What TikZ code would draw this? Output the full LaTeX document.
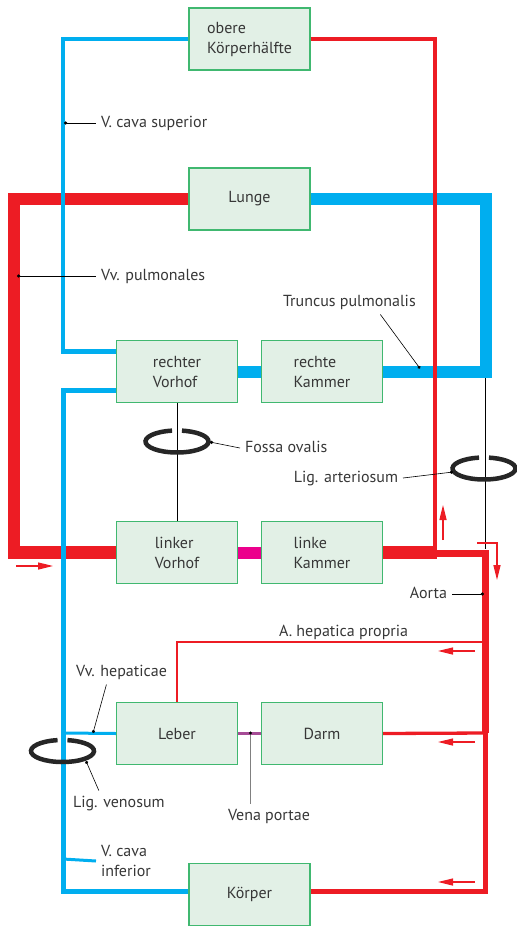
\documentclass[tikz,border=0pt]{standalone}
\usepackage{fontspec}
\setmainfont{PT Sans}
\usetikzlibrary{arrows.meta,calc}
\definecolor{cvene}{RGB}{0,174,239}
\definecolor{carterie}{RGB}{237,28,36}
\definecolor{cmisch}{RGB}{236,0,140}
\definecolor{cpfort}{RGB}{166,76,150}
\definecolor{organfill}{RGB}{226,240,230}
\definecolor{organline}{RGB}{64,184,112}
\definecolor{schrift}{RGB}{55,55,55}
\tikzstyle{organ}=[draw=organline, fill=organfill, line width=1.2pt, minimum width=121pt, minimum height=62pt, align=left, text=schrift, font=\fontsize{16}{20}\selectfont]
\tikzstyle{beschr}=[text=schrift, font=\fontsize{16}{20}\selectfont, inner sep=0pt, outer sep=5pt, text height=11.5pt, text depth=3.5pt]
\tikzstyle{beschr2}=[text=schrift, font=\fontsize{16}{20}\selectfont, inner sep=0pt, outer sep=5pt, align=left]
\tikzset{%
    vene/.style={draw=cvene, line width=#1},
    arterie/.style={draw=carterie, line width=#1},
    leit/.style={{Circle[length=3.2pt]}-, line width=0.6pt},
    ring/.style={draw=black!85, line width=4.5pt},
    pfeil/.style={draw=carterie, line width=1.3pt, -{Triangle[length=15pt,width=7pt]}},
  }
\begin{document}
\begin{tikzpicture}[x=1pt, y=-1pt, node distance=145pt]
    \useasboundingbox (0,0) rectangle (517,927);
    % Organe
    \node (lunge) [organ] at (249.5,199) {Lunge};
    \node (obkh) [organ, above of=lunge, node distance=160pt] {obere\\Körperhälfte};
    \node (rvh) [organ] at (177,371.5) {rechter\\Vorhof};
    \node (rk) [organ, right of=rvh] {rechte\\Kammer};
    \node (lvh) [organ, below of=rvh, node distance=181pt] {linker\\Vorhof};
    \node (lk) [organ, right of=lvh] {linke\\Kammer};
    \node (leber) [organ, below of=lvh, node distance=181pt] {Leber};
    \node (darm) [organ, right of=leber] {Darm};
    \node (koerper) [organ] at (249.5,894.5) {Körper};
    %
    \coordinate (pv1) at (14,199);
    \coordinate (pv2) at (14,552.5);
    \coordinate (pa1) at (485.5,199);
    \coordinate (pa2) at (485.5,372);
    \coordinate (vcs1) at (63,39);
    \coordinate (vcs2) at (63,351.5);
    \coordinate (vci1) at (63,390.5);
    \coordinate (vci2) at (63,891.5);
    \coordinate (ao0) at (433,553);
    \coordinate (ao1) at (437,552.5);
    \coordinate (ao2) at (485.5,553);
    \coordinate (ao3) at (485.5,733);
    \coordinate (ao4) at (485.5,891.5);
    \coordinate (ob1) at (435,39);
    \coordinate (ob2) at (435,553);
    \coordinate (hep) at (485.5,642);
    \coordinate (vvh) at (63,733);
    \coordinate (vp) at (250.5,733);
    % Gefaesse
    \draw [arterie=12.5pt] (lunge.west) -- (pv1) -- (pv2) -- (lvh.west);
    \draw [vene=12pt] (lunge.east) -- (pa1) -- (pa2) -- (pa2 -| rk.east);
    \draw [vene=12pt] (rvh.east) -- (rk.west);
    \draw [draw=cmisch, line width=12pt] (lvh.east) -- (lk.west);
    \draw [vene=4.7pt] (obkh.west) -- (vcs1) -- (vcs2) -- (vcs2 -| rvh.west);
    \draw [vene=5pt] (vci1 -| rvh.west) -- (vci1) -- (vci2) -- (vci2 -| koerper.west);
    \draw [vene=3pt] (leber.west) -- (vvh);
    \draw [draw=cpfort, line width=3pt] (leber.east) -- (darm.west);
    \draw [arterie=13pt] (lk.east) -- (ao1);
    \draw [arterie=4.7pt] (obkh.east) -- (ob1) -- (ob2);
    \draw [arterie=7pt] (ao0) -- (ao2) -- (ao3);
    \draw [arterie=4.7pt] (ao3) -- (ao4) -- (ao4 -| koerper.east);
    \draw [arterie=3.3pt] (darm.east) -- (ao3);
    \draw [arterie=1.2pt] (hep) -- (hep -| leber.north) -- (leber.north);
    % Ringe
    \coordinate (fo) at (177,441.5);
    \coordinate (la) at (484,468.5);
    \coordinate (lv) at (62.5,751);
    \draw [line width=0.6pt] (rvh.south) -- (lvh.north);
    \draw [line width=0.6pt] (485,378) -- (485,549);
    \foreach \r in {fo,la,lv}
      \draw [ring] (\r) ++(99:31.5pt and 11pt) arc[start angle=99, end angle=441, x radius=31.5pt, y radius=11pt];
    % Beschriftungen
    \node (tvcs) [beschr, anchor=west] at (96,123) {V. cava superior};
    \node (tvvp) [beschr, anchor=west] at (96,276) {Vv. pulmonales};
    \node (ttp) [beschr, anchor=west] at (278,302) {Truncus pulmonalis};
    \node (tfo) [beschr, anchor=west] at (240,448) {Fossa ovalis};
    \node (tla) [beschr, anchor=east] at (403,478) {Lig. arteriosum};
    \node (tao) [beschr, anchor=east] at (452,594) {Aorta};
    \node (thep) [beschr, anchor=west] at (274,632) {A. hepatica propria};
    \node (tvvh) [beschr, anchor=west] at (71,672) {Vv. hepaticae};
    \node (tlv) [beschr, anchor=west] at (68,803) {Lig. venosum};
    \node (tvp) [beschr, anchor=west] at (223,816) {Vena portae};
    \node (tvci) [beschr2, anchor=west] at (96,861) {V. cava\\inferior};
    \draw [leit] (64,123) -- (tvcs.west);
    \draw [leit] (17,276) -- (tvvp.west);
    \draw [leit] (420,368.5) -- ([xshift=31pt]ttp.south);
    \draw [leit] (210,442) -- (tfo.west);
    \draw [leit] (453,472) -- (tla.east);
    \draw [leit] (484,594) -- (tao.east);
    \draw [leit] (93,733) -- ([xshift=-15pt]tvvh.south);
    \draw [leit] (86,761) -- ([xshift=-20pt]tlv.north);
    \draw [draw=black!50, line width=1.3pt] (vp) -- (vp |- tvp.north);
    \fill (vp) circle (1.6pt);
    \draw [vene=3pt] (63,859) -- (tvci.west);
    % Flussrichtung
    \draw [pfeil] (16,566) -- (53,566);
    \draw [pfeil] (443,540) -- (443,505);
    \draw [pfeil] (477,543) -- (497,543) -- (497,580);
    \foreach \y in {651,742,882}
      \draw [pfeil] (475,\y) -- (438,\y);
  \end{tikzpicture}
\end{document}
